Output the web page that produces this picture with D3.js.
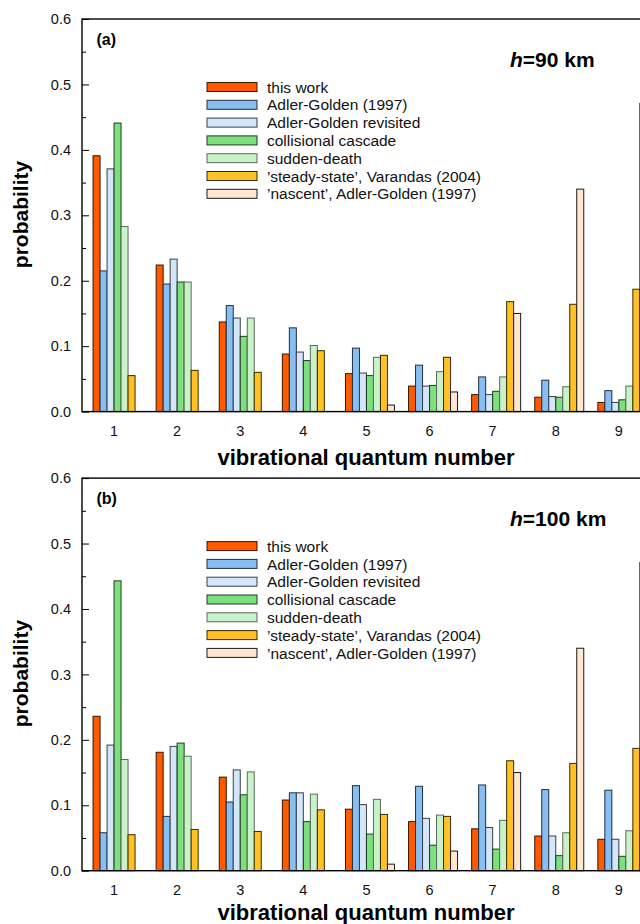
<!DOCTYPE html>
<html>
<head>
<meta charset="utf-8">
<script src="https://cdn.jsdelivr.net/npm/d3@7/dist/d3.min.js"></script>
<style>
  html, body { margin: 0; padding: 0; background: #fff; overflow: hidden; }
  svg { display: block; font-family: "Liberation Sans", Arial, Helvetica, sans-serif; }
</style>
</head>
<body>
<svg id="chart" width="640" height="924"></svg>
<script>
// Vibrational quantum numbers
const levels = [1, 2, 3, 4, 5, 6, 7, 8, 9];

// Series names (legend order)
const seriesNames = [
  "this work",
  "Adler-Golden (1997)",
  "Adler-Golden revisited",
  "collisional cascade",
  "sudden-death",
  "\u2019steady-state\u2019, Varandas (2004)",
  "\u2019nascent\u2019, Adler-Golden (1997)"
];

// h = 90 km
const thisWork90    = [0.391, 0.224, 0.137, 0.088, 0.058, 0.039, 0.026, 0.022, 0.014];
const adlerGolden90 = [0.215, 0.195, 0.162, 0.128, 0.097, 0.071, 0.053, 0.048, 0.032];
const agRevisited90 = [0.371, 0.233, 0.143, 0.091, 0.059, 0.039, 0.026, 0.023, 0.014];
const cascade90     = [0.441, 0.198, 0.115, 0.078, 0.055, 0.040, 0.031, 0.022, 0.018];
const sudden90      = [0.283, 0.198, 0.143, 0.101, 0.083, 0.061, 0.053, 0.038, 0.039];

// h = 100 km
const thisWork100    = [0.236, 0.181, 0.143, 0.108, 0.094, 0.075, 0.064, 0.053, 0.048];
const adlerGolden100 = [0.058, 0.083, 0.105, 0.119, 0.130, 0.129, 0.131, 0.124, 0.123];
const agRevisited100 = [0.192, 0.190, 0.154, 0.119, 0.101, 0.080, 0.066, 0.053, 0.048];
const cascade100     = [0.443, 0.195, 0.116, 0.075, 0.056, 0.039, 0.033, 0.023, 0.022];
const sudden100      = [0.170, 0.175, 0.151, 0.117, 0.109, 0.085, 0.077, 0.058, 0.061];

// altitude-independent distributions
const steadyState = [0.055, 0.063, 0.060, 0.093, 0.086, 0.083, 0.168, 0.164, 0.187];
const nascent     = [null, null, null, null, 0.010, 0.030, 0.150, 0.340, 0.471];

// y-axis ticks
const majorTicks = [0.0, 0.1, 0.2, 0.3, 0.4, 0.5, 0.6];
const minorTicks = [0.05, 0.15, 0.25, 0.35, 0.45, 0.55];

const fills   = ["#ff5a00", "#88bff2", "#d3e6fa", "#7ddf7d", "#c9f2c9", "#ffc125", "#ffe8cf"];
const strokes = ["#3a1500", "#1f2f40", "#3a3f48", "#1f3a1f", "#5a6a5a", "#3a2a00", "#1a1a1a"];

const panels = [
  { tag: "(a)", alt: "90", top: 19, titleGap: 53.5,
    series: [thisWork90, adlerGolden90, agRevisited90, cascade90, sudden90, steadyState, nascent] },
  { tag: "(b)", alt: "100", top: 478.1, titleGap: 49.5,
    series: [thisWork100, adlerGolden100, agRevisited100, cascade100, sudden100, steadyState, nascent] }
];

const svg = d3.select("#chart");
const plotLeft = 82, step = 63.1, plotH = 392.6;
const plotRight = plotLeft + step * 10;

// x: vibrational level -> group centre
const x = d3.scaleLinear().domain([0.5, 10.5]).range([plotLeft, plotRight]);
// 8 slots per group, the first left empty
const slot = d3.scaleBand().domain(d3.range(8)).range([-28, 28]).padding(0);

panels.forEach(p => {
  const bottom = p.top + plotH;
  const y = d3.scaleLinear().domain([0, 0.6]).range([bottom, p.top]);
  const g = svg.append("g");

  // bars
  p.series.forEach((vals, si) => {
    g.append("g").selectAll("rect")
      .data(levels.map((lv, i) => ({ lv, v: vals[i] })).filter(d => d.v != null))
      .join("rect")
      .attr("x", d => x(d.lv) + slot(si + 1) + 0.5)
      .attr("width", slot.bandwidth())
      .attr("y", d => y(d.v))
      .attr("height", d => y(0) - y(d.v))
      .attr("fill", fills[si])
      .attr("stroke", strokes[si])
      .attr("stroke-width", 1);
  });

  // frame
  g.append("rect")
    .attr("x", plotLeft).attr("y", p.top)
    .attr("width", plotRight - plotLeft).attr("height", plotH)
    .attr("fill", "none").attr("stroke", "#000").attr("stroke-width", 1.4);

  // y axis: inward ticks
  const ya = g.append("g").attr("transform", `translate(${plotLeft},0)`)
    .call(d3.axisLeft(y).tickValues(majorTicks).tickFormat(d3.format(".1f"))
      .tickSize(-7).tickPadding(11));
  ya.select(".domain").remove();
  ya.selectAll("line").attr("stroke", "#000").attr("stroke-width", 1);
  ya.selectAll("text").attr("font-size", "14.5px").attr("fill", "#111")
    .attr("font-family", "'Liberation Sans', Arial, sans-serif");

  const ym = g.append("g").attr("transform", `translate(${plotLeft},0)`)
    .call(d3.axisLeft(y).tickValues(minorTicks).tickFormat("").tickSize(-4));
  ym.select(".domain").remove();
  ym.selectAll("line").attr("stroke", "#000").attr("stroke-width", 1);

  // x axis labels
  const xa = g.append("g").attr("transform", `translate(0,${bottom})`)
    .call(d3.axisBottom(x).tickValues(levels).tickSize(0).tickPadding(14));
  xa.select(".domain").remove();
  xa.selectAll("text").attr("font-size", "14.5px").attr("fill", "#111")
    .attr("font-family", "'Liberation Sans', Arial, sans-serif");

  // axis titles
  g.append("text")
    .attr("x", 366).attr("y", bottom + p.titleGap)
    .attr("text-anchor", "middle")
    .attr("font-size", "22px").attr("font-weight", "bold").attr("fill", "#000")
    .text("vibrational quantum number");

  g.append("text")
    .attr("transform", `translate(28,${p.top + 195.5}) rotate(-90)`)
    .attr("text-anchor", "middle")
    .attr("font-size", "21px").attr("font-weight", "bold").attr("fill", "#000")
    .text("probability");

  // panel tag
  g.append("text")
    .attr("x", 96.5).attr("y", p.top + 26.3)
    .attr("font-size", "16px").attr("font-weight", "bold").attr("fill", "#000")
    .text(p.tag);

  // altitude
  const alt = g.append("text")
    .attr("x", 510).attr("y", p.top + 47.7)
    .attr("font-size", "21px").attr("font-weight", "bold").attr("fill", "#000");
  alt.append("tspan").attr("font-style", "italic").text("h");
  alt.append("tspan").text(`=${p.alt} km`);

  // legend
  const lg = g.append("g").attr("transform", `translate(207,${p.top + 68})`);
  seriesNames.forEach((name, i) => {
    const row = lg.append("g").attr("transform", `translate(0,${i * 17.8})`);
    row.append("rect")
      .attr("x", 0).attr("y", -4.5).attr("width", 50).attr("height", 9)
      .attr("fill", fills[i]).attr("stroke", strokes[i]).attr("stroke-width", 1);
    row.append("text")
      .attr("x", 60).attr("y", 5.6)
      .attr("font-size", "15.5px").attr("fill", "#111")
      .text(name);
  });
});
</script>
</body>
</html>
